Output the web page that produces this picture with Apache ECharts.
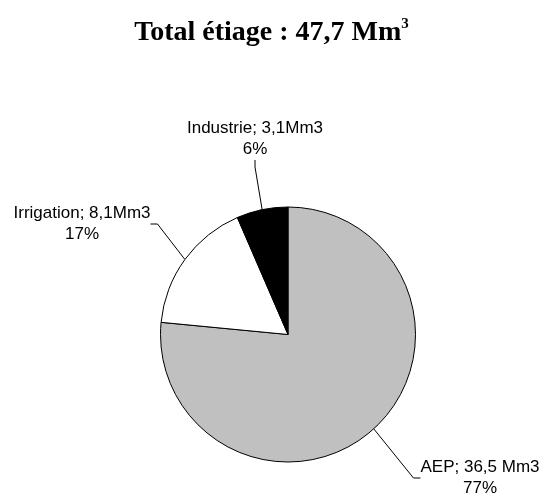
<!DOCTYPE html>
<html>
<head>
<meta charset="utf-8">
<script src="https://cdn.jsdelivr.net/npm/echarts@6/dist/echarts.min.js"></script>
<style>
  html, body { margin: 0; padding: 0; background: #fff; }
  #main { width: 543px; height: 498px; }
</style>
</head>
<body>
<div id="main"></div>
<script>
const categories = ['AEP', 'Irrigation', 'Industrie'];
const volumes = [36.5, 8.1, 3.1];
const volumeLabels = ['36,5 Mm3', '8,1Mm3', '3,1Mm3'];
const sliceColors = ['#c0c0c0', '#ffffff', '#000000'];
const totalText = '47,7';

// where each label block is centred (px)
const labelSpots = [[480, 478], [82, 224], [255, 139]];

const chartDom = document.getElementById('main');
const myChart = echarts.init(chartDom);

const option = {
    animation: false,
    title: {
        text: '{a|Total étiage : ' + totalText + ' Mm}{s|3}',
        left: 'center',
        top: 12,
        textStyle: {
            rich: {
                a: { fontFamily: 'Liberation Serif', fontWeight: 'bold', fontSize: 28, lineHeight: 32, color: '#000' },
                s: { fontFamily: 'Liberation Serif', fontWeight: 'bold', fontSize: 15, lineHeight: 22, verticalAlign: 'top', color: '#000' }
            }
        }
    },
    series: [
        {
            type: 'pie',
            center: [288, 334.5],
            radius: 127.5,
            startAngle: 90,
            clockwise: true,
            avoidLabelOverlap: false,
            percentPrecision: 0,
            silent: true,
            itemStyle: { borderColor: '#000', borderWidth: 1 },
            label: {
                show: true,
                position: 'outside',
                fontFamily: 'Liberation Sans',
                fontSize: 17,
                lineHeight: 21,
                color: '#000',
                align: 'center',
                formatter: (p) => p.name + '; ' + volumeLabels[p.dataIndex] + '\n' + p.percent + '%'
            },
            labelLine: {
                show: true,
                length: 10,
                length2: 7,
                lineStyle: { color: '#000', width: 1 }
            },
            labelLayout: (params) => {
                const spot = labelSpots[params.dataIndex];
                return { x: spot[0], y: spot[1], align: 'center', verticalAlign: 'middle' };
            },
            data: categories.map((name, i) => ({
                name: name,
                value: volumes[i],
                itemStyle: { color: sliceColors[i] }
            }))
        }
    ]
};

option && myChart.setOption(option);
</script>
</body>
</html>
